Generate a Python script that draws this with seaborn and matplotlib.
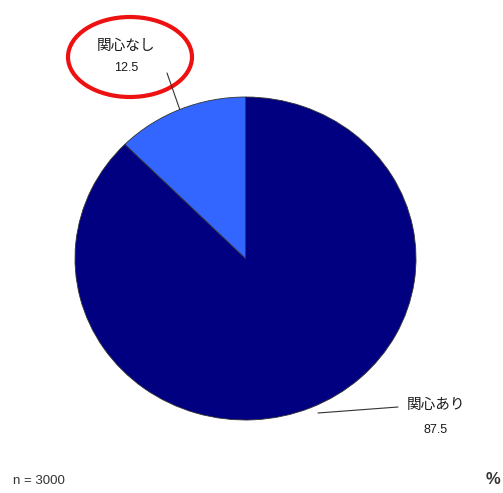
import matplotlib
matplotlib.use("Agg")
import matplotlib.pyplot as plt
import seaborn as sns
from matplotlib.patches import Ellipse

categories = ["関心あり", "関心なし"]
values = [87.5, 12.5]
colors = ["#000080", "#3366FF"]
n_label = "n = 3000"
unit_label = "%"

sns.set_style("white")
plt.rcParams['font.family'] = ['Noto Sans CJK JP', 'DejaVu Sans']
num_font = ['Liberation Sans', 'DejaVu Sans']

W, H = 503, 493
fig = plt.figure(figsize=(W / 100, H / 100), dpi=100)

ov = fig.add_axes([0, 0, 1, 1])
ov.set_xlim(0, W)
ov.set_ylim(H, 0)
ov.axis("off")

L, R, T, B = 75, 416, 97, 420
pax = fig.add_axes([L / W, (H - B) / H, (R - L) / W, (B - T) / H])
wedges, _ = pax.pie(values, colors=colors, startangle=90, counterclock=False,
                    wedgeprops=dict(edgecolor="#333333", linewidth=0.6))
pax.set_aspect("auto")
pax.set_xlim(-1, 1)
pax.set_ylim(-1, 1)
pax.axis("off")

# labels and leader lines
ov.plot([181, 167], [113, 73], color="#333333", lw=0.8)
ov.text(126, 46, categories[1], ha="center", va="center", fontsize=10.5, color="#1a1a1a")
ov.text(126, 68, f"{values[1]}", ha="center", va="center", fontsize=9, color="#1a1a1a", family=num_font)

ov.plot([318, 398], [413, 407], color="#333333", lw=0.8)
ov.text(436, 405, categories[0], ha="center", va="center", fontsize=10.5, color="#1a1a1a")
ov.text(436, 430, f"{values[0]}", ha="center", va="center", fontsize=9, color="#1a1a1a", family=num_font)

ov.text(13, 481, n_label, ha="left", va="center", fontsize=9.5, color="#333333", family=num_font)
ov.text(500, 479, unit_label, ha="right", va="center", fontsize=12, fontweight="bold", color="#333333", family=num_font)

# red annotation ellipse
ov.add_patch(Ellipse((130, 57), 124, 80, fill=False, edgecolor="#EE1111", lw=3))

fig.savefig("out.png", dpi=100)
